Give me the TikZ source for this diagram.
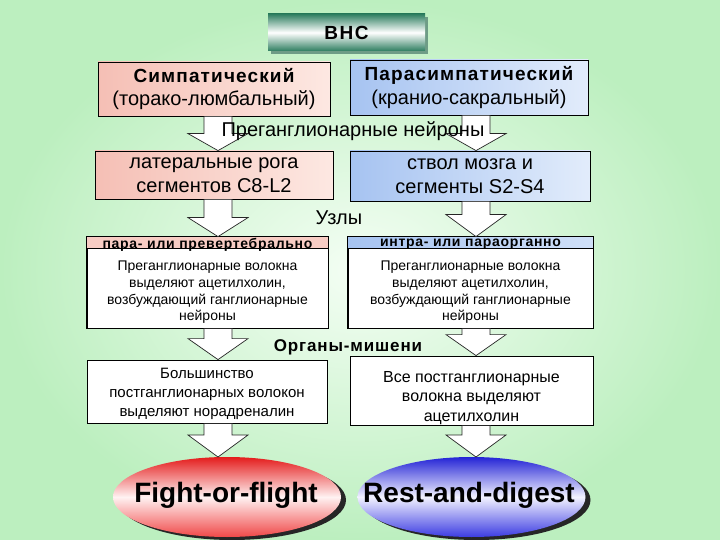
\documentclass[tikz,border=0pt]{standalone}
\usepackage{fontspec}
\setmainfont{Liberation Sans}
\usetikzlibrary{calc}
\definecolor{bgin}{HTML}{F4FEF4}
\definecolor{bgout}{HTML}{BCEFBF}
\definecolor{pinkL}{HTML}{F5BFB5}
\definecolor{pinkR}{HTML}{FDE8E2}
\definecolor{blueL}{HTML}{A6C3F1}
\definecolor{blueR}{HTML}{E2ECFB}
\definecolor{teal}{HTML}{2E7E60}
\definecolor{tealsh}{HTML}{6E9C86}
\definecolor{redT}{HTML}{E41C1C}
\definecolor{redB}{HTML}{F04848}
\definecolor{redM}{HTML}{FFF2F2}
\definecolor{bluT}{HTML}{2424D6}
\definecolor{bluB}{HTML}{3C3CE2}
\definecolor{bluM}{HTML}{F2F2FF}
\newcommand\blockarrow[3]{%
  \draw[barrow] let \p1=(#1), \p2=(#2) in
    (\x1-14pt,\y1) -- (\x1-14pt,\y2+#3) -- (\x1-30pt,\y2+#3) -- (\x1,\y2)
    -- (\x1+30pt,\y2+#3) -- (\x1+14pt,\y2+#3) -- (\x1+14pt,\y1) -- cycle;}
\begin{document}
\begin{tikzpicture}[x=1pt,y=-1pt,
  box/.style={draw=black, line width=0.8pt, inner sep=0pt, align=center},
  pinkbox/.style={box, left color=pinkL, right color=pinkR},
  bluebox/.style={box, left color=blueL, right color=blueR},
  whitebox/.style={box, fill=white},
  barrow/.style={draw=black!85, fill=white, line width=0.7pt, line join=miter},
  big/.style={font=\fontsize{20}{23.5}\selectfont},
  small/.style={font=\fontsize{14}{16.7}\selectfont, align=center, inner sep=0pt},
  hdr/.style={font=\bfseries\fontsize{14}{16}\selectfont\addfontfeature{LetterSpace=5}, inner sep=0pt},
  ovaltext/.style={inner sep=0pt, font=\bfseries\fontsize{28}{32}\selectfont},
  lbl/.style={inner sep=0pt}
]
\useasboundingbox (0,0) rectangle (720,540);
\shade[inner color=bgin, outer color=bgout] (0,0) rectangle (720,540);

% VNS button
\fill[tealsh] (271,17) rectangle (428,54);
\node[inner sep=0pt, minimum width=157pt, minimum height=37pt,
  top color=teal, bottom color=teal, middle color=white,
  font=\bfseries\fontsize{19}{20}\selectfont\addfontfeature{LetterSpace=8}] (vns) at (346.5,32.5) {ВНС};

\coordinate (colL) at (218,0);
\coordinate (colR) at (476,0);

% row 1
\node[pinkbox, big, minimum width=232pt, minimum height=54pt] (sym) at (214,89)
  {\begingroup\bfseries\fontsize{19}{23.5}\selectfont\addfontfeature{LetterSpace=6}Симпатический\endgroup\\(торако-люмбальный)};
\node[bluebox, big, minimum width=238pt, minimum height=55pt] (para) at (469,87.5)
  {\begingroup\bfseries\fontsize{19}{23.5}\selectfont\addfontfeature{LetterSpace=6}Парасимпатический\endgroup\\(кранио-сакральный)};

% row 2
\node[pinkbox, big, minimum width=238pt, minimum height=48pt] (lat) at (214,175)
  {латеральные рога\\сегментов C8-L2};
\node[bluebox, big, minimum width=240pt, minimum height=50pt] (stv) at (470,176)
  {ствол мозга и\\сегменты S2-S4};

% row 3 (ganglia)
\node[whitebox, minimum width=241pt, minimum height=91pt] (gl) at (207.5,282.5) {};
\fill[pinkL!80!white] (gl.north west) rectangle ($(gl.north east)+(0,12)$);
\draw[line width=0.8pt] (gl.north west) rectangle (gl.south east);
\draw[line width=0.8pt] ($(gl.north west)+(0,12)$) -- ($(gl.north east)+(0,12)$);
\node[hdr] (glh) at ($(gl.north)+(0,8)$) {пара- или превертебрально};
\node[small] (glt) at ($(gl.center)+(0,10)$)
  {Преганглионарные волокна\\выделяют ацетилхолин,\\возбуждающий ганглионарные\\нейроны};

\node[whitebox, minimum width=245pt, minimum height=91pt] (gr) at (470.5,282.5) {};
\shade[left color=blueL, right color=blueR!70!blueL] (gr.north west) rectangle ($(gr.north east)+(0,12)$);
\draw[line width=0.8pt] (gr.north west) rectangle (gr.south east);
\draw[line width=0.8pt] ($(gr.north west)+(0,12)$) -- ($(gr.north east)+(0,12)$);
\node[hdr] (grh) at ($(gr.north)+(0,8)$) {интра- или параорганно};
\node[small] (grt) at ($(gr.center)+(0,10)$)
  {Преганглионарные волокна\\выделяют ацетилхолин,\\возбуждающий ганглионарные\\нейроны};

% row 4
\node[whitebox, minimum width=240pt, minimum height=63pt] (bl) at (207,391.5) {};
\node[lbl, align=center, font=\fontsize{15}{19}\selectfont] (blt) at (207,394)
  {Большинство\\постганглионарных волокон\\выделяют норадреналин};
\node[whitebox, minimum width=243pt, minimum height=69pt] (br) at (471.5,390.5) {};
\node[lbl, align=center, font=\fontsize{16}{19.5}\selectfont] (brt) at (471.5,398)
  {Все постганглионарные\\волокна выделяют\\ацетилхолин};

% ovals
\coordinate (ffc) at (227,497);
\coordinate (rdc) at (471.5,497);
\coordinate (fftop) at (227,457);
\coordinate (rdtop) at (471.5,457);
\fill[black!85] ($(ffc)+(5,3)$) ellipse [x radius=114pt, y radius=40pt];
\fill[black!85] ($(rdc)+(5,3)$) ellipse [x radius=114pt, y radius=40pt];
\shade[top color=redT, bottom color=redB, middle color=redM] (ffc) ellipse [x radius=114pt, y radius=40pt];
\shade[top color=bluT, bottom color=bluB, middle color=bluM] (rdc) ellipse [x radius=114pt, y radius=40pt];
\node[ovaltext] (ff) at (226,495) {Fight-or-flight};
\node[ovaltext] (rd) at (469,495) {Rest-and-digest};

% block arrows
\blockarrow{sym.south -| colL}{lat.north}{17pt}
\blockarrow{para.south -| colR}{stv.north}{17pt}
\blockarrow{lat.south -| colL}{gl.north}{19pt}
\blockarrow{stv.south -| colR}{gr.north}{22pt}
\blockarrow{gl.south -| colL}{bl.north}{21pt}
\blockarrow{gr.south -| colR}{br.north}{21pt}
\blockarrow{bl.south -| colL}{fftop}{22pt}
\blockarrow{br.south -| colR}{rdtop}{22pt}

% labels
\node[lbl, big] (pre) at (353,131) {Преганглионарные нейроны};
\node[lbl, big] (uzl) at (339,218) {Узлы};
\node[lbl, font=\bfseries\fontsize{17}{20}\selectfont\addfontfeature{LetterSpace=5}] (org) at (348,347) {Органы-мишени};
\end{tikzpicture}
\end{document}
